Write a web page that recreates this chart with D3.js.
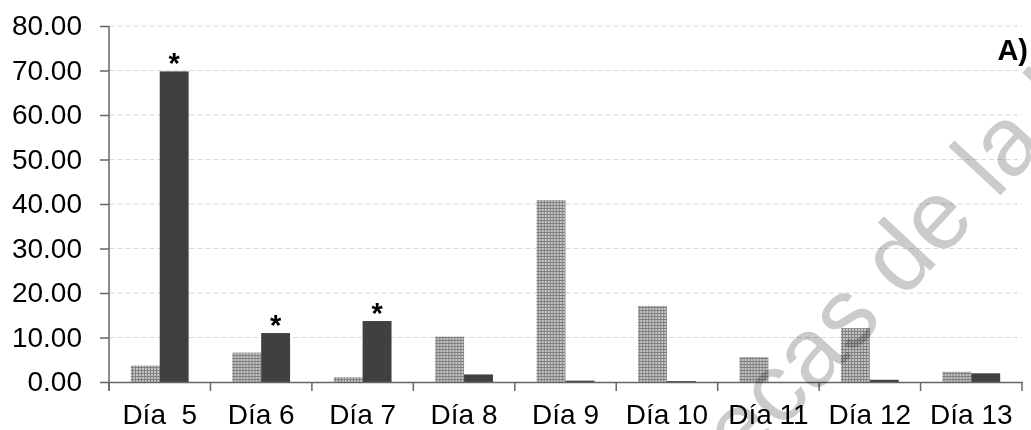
<!DOCTYPE html>
<html>
<head>
<meta charset="utf-8">
<script src="https://cdn.jsdelivr.net/npm/d3@7"></script>
<style>
  html, body { margin: 0; padding: 0; background: #fff; }
  svg { display: block; font-family: Arial, "Liberation Sans", sans-serif; }
  .wm { white-space: pre; }
</style>
</head>
<body>
<svg id="chart" width="1031" height="430"></svg>
<script>
// categories and values
const days = ["Día  5", "Día 6", "Día 7", "Día 8", "Día 9", "Día 10", "Día 11", "Día 12", "Día 13"];
const series = ["dotted", "dark"];
const dottedValues = [3.7, 6.6, 1.1, 10.2, 40.9, 17.1, 5.6, 12.1, 2.3];
const darkValues = [69.8, 11.0, 13.7, 1.7, 0.3, 0.2, 0.0, 0.5, 1.95];
const starred = ["Día  5", "Día 6", "Día 7"];
const yTicks = [0, 10, 20, 30, 40, 50, 60, 70, 80];

const svg = d3.select("#chart");
const margin = { top: 26, right: 9, bottom: 48, left: 109 };
const width = 1031, height = 430;
const plotW = width - margin.left - margin.right;
const plotH = height - margin.top - margin.bottom;

// dotted fill of the first series
let defs = svg.append("defs");
let pat = defs.append("pattern")
  .attr("id", "dots")
  .attr("patternUnits", "userSpaceOnUse")
  .attr("width", 3).attr("height", 3);
pat.append("rect").attr("width", 3).attr("height", 3).attr("fill", "#808080");
pat.append("rect").attr("width", 2).attr("height", 2).attr("fill", "#c6c6c6");

let x = d3.scaleBand().domain(days).range([0, plotW]).paddingInner(0).paddingOuter(0);
let bw = x.bandwidth();
let x1 = d3.scaleBand().domain(series).range([bw * 0.215, bw * 0.785]);
let y = d3.scaleLinear().domain([0, 80]).range([plotH, 0]);

let plot = svg.append("g")
  .attr("transform", "translate(" + margin.left + "," + margin.top + ")");

// dashed grid lines
plot.selectAll("line.grid")
  .data(yTicks.filter(d => d > 0))
  .enter()
  .append("line")
  .attr("class", "grid")
  .attr("x1", 0).attr("x2", plotW)
  .attr("y1", d => y(d)).attr("y2", d => y(d))
  .attr("stroke", "#d9d9d9")
  .attr("stroke-width", 1.2)
  .attr("stroke-dasharray", "5,3");

let rows = days.map((d, i) => ({ day: d, dotted: dottedValues[i], dark: darkValues[i] }));

let groups = plot.selectAll("g.day")
  .data(rows)
  .enter()
  .append("g")
  .attr("class", "day")
  .attr("transform", d => "translate(" + x(d.day) + ",0)");

groups.append("rect")
  .attr("x", x1("dotted"))
  .attr("width", x1.bandwidth())
  .attr("y", d => y(d.dotted))
  .attr("height", d => y(0) - y(d.dotted))
  .attr("fill", "url(#dots)");

groups.append("rect")
  .attr("x", x1("dark"))
  .attr("width", x1.bandwidth())
  .attr("y", d => y(d.dark))
  .attr("height", d => y(0) - y(d.dark))
  .attr("fill", "#404040");

// significance marks
groups.filter(d => starred.includes(d.day))
  .append("text")
  .attr("x", x1("dark") + x1.bandwidth() / 2)
  .attr("y", d => y(d.dark) + 2)
  .attr("text-anchor", "middle")
  .attr("font-size", "29px")
  .attr("font-weight", "bold")
  .attr("fill", "#000")
  .text("*");

// y axis
let yAxis = plot.append("g")
  .call(d3.axisLeft(y).tickValues(yTicks).tickSize(9).tickPadding(18).tickFormat(d3.format(".2f")));
yAxis.select(".domain").attr("stroke", "#666").attr("stroke-width", 1.5).attr("d", "M0,0V" + (plotH + 9));
yAxis.selectAll(".tick line").attr("stroke", "#666").attr("stroke-width", 1.5);
yAxis.selectAll("text").attr("font-size", "28px").attr("fill", "#000").attr("font-family", "Arial, 'Liberation Sans', sans-serif");

// x axis: labels at band centres, ticks at band edges
let xAxis = plot.append("g")
  .attr("transform", "translate(0," + plotH + ")")
  .call(d3.axisBottom(x).tickSize(0).tickPadding(22));
xAxis.select(".domain").attr("stroke", "#666").attr("stroke-width", 1.5);
xAxis.selectAll("text")
  .attr("font-size", "28px").attr("fill", "#000")
  .attr("font-family", "Arial, 'Liberation Sans', sans-serif")
  .style("white-space", "pre");

let edges = days.map(d => x(d)).concat([plotW]);
xAxis.selectAll("line.edge")
  .data(edges)
  .enter()
  .append("line")
  .attr("class", "edge")
  .attr("x1", d => d).attr("x2", d => d)
  .attr("y1", 0).attr("y2", 9)
  .attr("stroke", "#666")
  .attr("stroke-width", 1.5);

// panel label
svg.append("text")
  .attr("x", 1028)
  .attr("y", 60)
  .attr("text-anchor", "end")
  .attr("font-size", "29px")
  .attr("font-weight", "bold")
  .attr("fill", "#000")
  .text("A)");

// watermark
let wm = svg.append("g")
  .attr("transform", "translate(996,200) rotate(-47)")
  .style("mix-blend-mode", "multiply");
wm.append("text")
  .attr("class", "wm")
  .attr("text-anchor", "end")
  .attr("font-size", "98px")
  .attr("fill", "#cbcbcb")
  .text("Bibliotecas de ");
wm.append("text")
  .attr("class", "wm")
  .attr("text-anchor", "start")
  .attr("font-size", "98px")
  .attr("fill", "#cbcbcb")
  .text("la Universidad");
</script>
</body>
</html>
